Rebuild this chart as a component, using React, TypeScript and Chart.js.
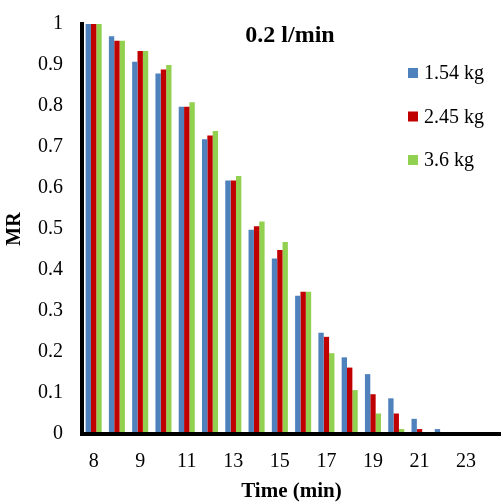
import React, { useEffect, useRef } from "react";
import { Chart, registerables } from "chart.js";

Chart.register(...registerables);

const categories = ["8", "8.5", "9", "10", "11", "12", "13", "14", "15", "16", "17", "18", "19", "20", "21", "22", "23", "24"];
const series154 = [1, 0.97, 0.908, 0.879, 0.798, 0.719, 0.618, 0.498, 0.428, 0.337, 0.247, 0.187, 0.146, 0.087, 0.037, 0.012, 0, 0];
const series245 = [1, 0.959, 0.934, 0.889, 0.798, 0.728, 0.618, 0.507, 0.449, 0.347, 0.237, 0.162, 0.097, 0.05, 0.012, 0, 0, 0];
const series36 = [1, 0.959, 0.934, 0.9, 0.809, 0.739, 0.629, 0.518, 0.468, 0.347, 0.197, 0.107, 0.05, 0.012, 0, 0, 0, 0];
const seriesNames = ["1.54 kg", "2.45 kg", "3.6 kg"];
const seriesColors = ["#4F81BD", "#C00000", "#92D050"];
const chartTitle = "0.2 l/min";
const xTitle = "Time (min)";
const yTitle = "MR";

const FONT = "'Liberation Serif', 'Times New Roman', serif";

const overlayPlugin = {
  id: "overlay",
  afterDraw(chart: any) {
    const ctx = chart.ctx;
    const area = chart.chartArea;
    ctx.save();
    // title
    ctx.fillStyle = "#000";
    ctx.font = `bold 24px ${FONT}`;
    ctx.textAlign = "center";
    ctx.textBaseline = "middle";
    ctx.fillText(chartTitle, area.left + 208, area.top + 12);
    // legend
    ctx.font = `20px ${FONT}`;
    ctx.textAlign = "left";
    chart.data.datasets.forEach((ds: any, i: number) => {
      const cy = area.top + 49 + i * 43.5;
      const x0 = area.left + 326;
      ctx.fillStyle = ds.backgroundColor;
      ctx.fillRect(x0, cy - 5, 10, 10);
      ctx.fillStyle = "#000";
      ctx.fillText(ds.label, x0 + 16, cy + 1);
    });
    ctx.restore();
  },
};

export default function App() {
  const ref = useRef<HTMLCanvasElement>(null);
  useEffect(() => {
    if (!ref.current) return;
    const datasets = [series154, series245, series36].map((d, i) => ({
      label: seriesNames[i],
      data: d,
      backgroundColor: seriesColors[i],
      borderWidth: 0,
      categoryPercentage: 0.69,
      barPercentage: 1,
    }));
    const chart = new Chart(ref.current, {
      type: "bar",
      data: { labels: categories, datasets },
      plugins: [overlayPlugin],
      options: {
        animation: false,
        responsive: false,
        maintainAspectRatio: false,
        layout: { padding: { top: 24, right: 0, bottom: 0, left: 0 } },
        plugins: {
          legend: { display: false },
          tooltip: { enabled: false },
          title: { display: false },
        },
        scales: {
          x: {
            afterFit: (s: any) => {
              s.height = 68;
              s.paddingLeft = 0;
              s.paddingRight = 0;
            },
            grid: { display: false, drawTicks: false },
            border: { display: true, color: "#000", width: 4, z: 1 },
            ticks: {
              autoSkip: false,
              maxRotation: 0,
              padding: 16,
              color: "#000",
              font: { family: FONT, size: 20 },
              callback: (_v: any, idx: number) => (idx % 2 === 0 ? categories[idx] : ""),
            },
            title: {
              display: true,
              text: xTitle,
              color: "#000",
              font: { family: FONT, size: 21, weight: "bold", lineHeight: 1 },
              padding: { top: 0, bottom: 0 },
            },
          },
          y: {
            min: 0,
            max: 1,
            afterFit: (s: any) => {
              s.width = 82;
              s.paddingTop = 0;
              s.paddingBottom = 0;
            },
            grid: { display: false, drawTicks: false },
            border: { display: true, color: "#000", width: 4, z: 1 },
            ticks: {
              stepSize: 0.1,
              padding: 19,
              color: "#000",
              font: { family: FONT, size: 20 },
              callback: (v: any) => String(Math.round(Number(v) * 10) / 10),
            },
            title: {
              display: true,
              text: yTitle,
              color: "#000",
              font: { family: FONT, size: 20, weight: "bold", lineHeight: 1 },
              padding: { top: 5, bottom: 0 },
            },
          },
        },
      },
    });
    return () => chart.destroy();
  }, []);
  return (
    <div style={{ position: "fixed", left: 0, top: 0, width: 501, height: 502, background: "#fff" }}>
      <canvas ref={ref} width={501} height={502} />
    </div>
  );
}
